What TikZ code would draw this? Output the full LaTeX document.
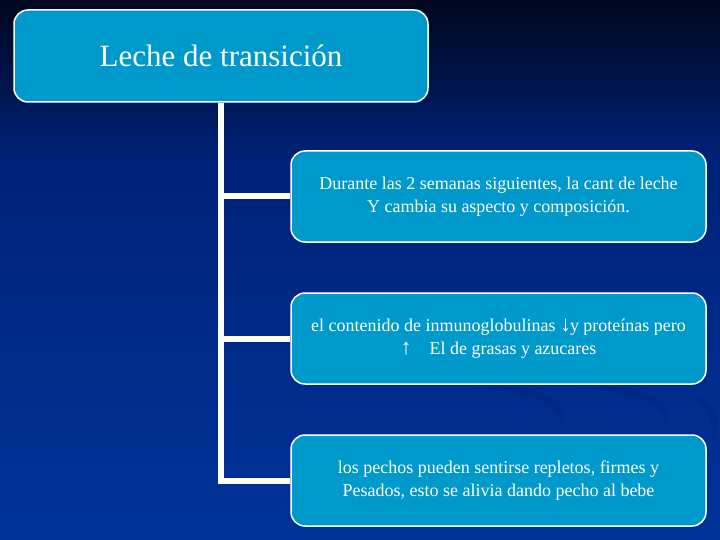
\documentclass[tikz,border=0pt]{standalone}
\usepackage{fontspec}
\setmainfont{Liberation Serif}
\usetikzlibrary{positioning}
\definecolor{boxblue}{RGB}{0,153,204}
\definecolor{bgtop}{RGB}{0,6,30}
\definecolor{bgmid}{RGB}{0,34,120}
\definecolor{bgbot}{RGB}{0,51,153}
\definecolor{swoosh}{RGB}{0,30,120}
\tikzset{
  topbox/.style={draw=white,line width=1.5pt,fill=boxblue,rounded corners=14pt,
    minimum width=414pt,minimum height=92pt,text=white,font=\fontsize{31}{36}\selectfont},
  itembox/.style={draw=white,line width=1.5pt,fill=boxblue,rounded corners=14pt,
    minimum width=415pt,minimum height=91pt,text=white,align=center,
    font=\fontsize{18}{23}\selectfont},
  conn/.style={draw=white,line width=6pt,line join=miter},
  swooshfill/.style={fill=swoosh,opacity=0.3}
}
\begin{document}
\begin{tikzpicture}[x=1pt,y=-1pt]
        \useasboundingbox (0,0) rectangle (720,540);
        %% Background
        \shade[top color=bgtop,bottom color=bgmid] (0,0) rectangle (720,160.5);
        \shade[top color=bgmid,bottom color=bgbot] (0,160) rectangle (720,540);
        \begin{scope}
          \clip (0,0) rectangle (720,540);
          \fill[swooshfill] (470,388) .. controls (540,380) and (578,400) .. (560,428) .. controls (565,405) and (530,392) .. (470,388) -- cycle;
          \fill[swooshfill] (580,388) .. controls (640,380) and (680,400) .. (665,428) .. controls (668,405) and (635,392) .. (580,388) -- cycle;
          \fill[swooshfill] (690,395) .. controls (715,400) and (725,420) .. (712,445) .. controls (715,420) and (705,405) .. (690,395) -- cycle;
        \end{scope}
        %% Title
        \node[topbox] (title) at (221,56) {Leche de transición};
        %% Items
        \node[itembox] (first) at (498.5,196.5) {Durante las 2 semanas siguientes, la cant de leche\\Y cambia su aspecto y composición.};
        \node[itembox,below=49.5pt of first] (second) {el contenido de inmunoglobulinas {\fontsize{22}{23}\selectfont↓}\kern-1pt y proteínas pero\\{\fontsize{22}{23}\selectfont↑}\quad El de grasas y azucares};
        \node[itembox,below=49.5pt of second] (third) {los pechos pueden sentirse repletos, firmes y\\Pesados, esto se alivia dando pecho al bebe};
        %% Connectors
        \draw[conn] (title.south) |- (first.west);
        \draw[conn] (title.south) |- (second.west);
        \draw[conn] (title.south) |- (third.west);
    \end{tikzpicture}
\end{document}
